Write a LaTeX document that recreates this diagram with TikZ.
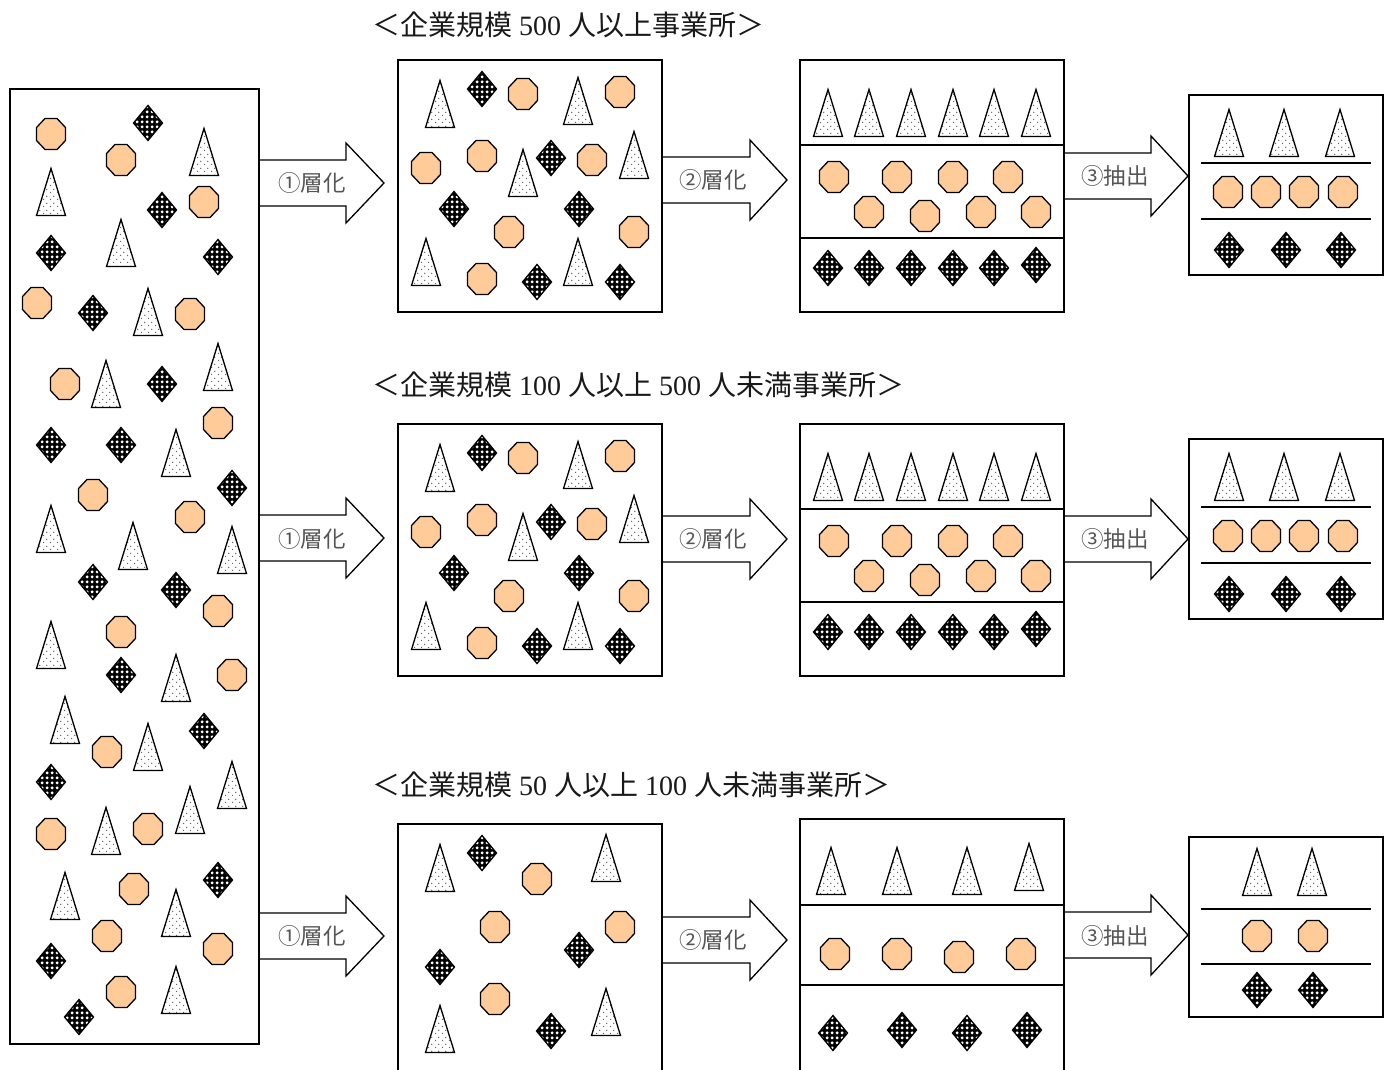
\documentclass[tikz,border=0pt]{standalone}
\usepackage{fontspec}
\newfontfamily\jp{Noto Sans CJK JP}
\newfontfamily\digits{Liberation Serif}
\usetikzlibrary{patterns.meta}
\definecolor{peach}{RGB}{255,204,153}
\definecolor{lbl}{RGB}{85,85,85}
\tikzdeclarepattern{name=tdots, type=uncolored, bottom left={(0pt,0pt)}, top right={(7pt,7pt)}, tile size={(7pt,7pt)},
  code={\fill (1.75pt,1.75pt) circle (0.8pt); \fill (5.25pt,5.25pt) circle (0.8pt);}}
\tikzdeclarepattern{name=ddots, type=uncolored, bottom left={(0pt,0pt)}, top right={(5pt,5pt)}, tile size={(5pt,5pt)},
  code={\fill (2.5pt,2.5pt) circle (1.85pt);}}
\tikzset{
  tristyle/.style={preaction={fill=white}, pattern=tdots, pattern color=black!60, draw=black, line width=1.3pt, line join=miter},
  diastyle/.style={preaction={fill=black}, pattern=ddots, pattern color=white, draw=black, line width=1.3pt, line join=miter},
  octstyle/.style={fill=peach, draw=black, line width=1.3pt},
  tri/.pic={\path[tristyle] (0,-23.5) -- (14.5,23.5) -- (-14.5,23.5) -- cycle;},
  dia/.pic={\path[diastyle] (0,-17.5) -- (14.5,0) -- (0,17.5) -- (-14.5,0) -- cycle;},
  oct/.pic={\path[octstyle] (-6,-15.5) -- (6,-15.5) -- (14.5,-6.5) -- (14.5,6.5) -- (6,15.5) -- (-6,15.5) -- (-14.5,6.5) -- (-14.5,-6.5) -- cycle;},
  boxline/.style={draw=black, line width=1.6pt},
  divline/.style={draw=black, line width=1.3pt},
  arrowstyle/.style={draw=black, fill=white, line width=1.3pt, line join=miter},
  arrlabel/.style={font=\jp\fontsize{22.5}{26}\selectfont, text=lbl, inner sep=0pt},
  title/.style={font=\digits\fontsize{28}{32}\selectfont, text=black!90, anchor=west, inner sep=0pt},
}
% block arrow: start x, head x, tip x, centre y
\newcommand\blockarrow[4]{%
  \path[arrowstyle] (#1,#4-23) -- (#2,#4-23) -- (#2,#4-40) -- (#3,#4) -- (#2,#4+40) -- (#2,#4+23) -- (#1,#4+23) -- cycle;}
\begin{document}
\begin{tikzpicture}[x=1pt,y=-1pt]
\useasboundingbox (0,0) rectangle (1392,1069);

% titles
\node[title] (t1) at (372,25) {{\jp ＜企業規模} 500 {\jp 人以上事業所＞}};
\node[title] (t2) at (372,385) {{\jp ＜企業規模} 100 {\jp 人以上} 500 {\jp 人未満事業所＞}};
\node[title] (t3) at (372,785) {{\jp ＜企業規模} 50 {\jp 人以上} 100 {\jp 人未満事業所＞}};

% block arrows
\blockarrow{259}{346}{384}{183}
\blockarrow{259}{346}{384}{538}
\blockarrow{259}{346}{384}{936}
\blockarrow{662}{750}{787}{180}
\blockarrow{662}{750}{787}{539}
\blockarrow{662}{750}{787}{940}
\blockarrow{1064}{1151}{1188}{176}
\blockarrow{1064}{1151}{1188}{539}
\blockarrow{1064}{1151}{1188}{935}
\node[arrlabel] (l11) at (312,183) {①層化};
\node[arrlabel] (l12) at (312,539) {①層化};
\node[arrlabel] (l13) at (312,936) {①層化};
\node[arrlabel] (l21) at (713,180) {②層化};
\node[arrlabel] (l22) at (713,539) {②層化};
\node[arrlabel] (l23) at (713,940) {②層化};
\node[arrlabel] (l31) at (1115,176) {③抽出};
\node[arrlabel] (l32) at (1115,539) {③抽出};
\node[arrlabel] (l33) at (1115,936) {③抽出};

% boxes
\draw[boxline] (10,89) rectangle (259,1044);
\draw[boxline] (398,60) rectangle (662,312);
\draw[boxline] (398,424) rectangle (662,676);
\draw[boxline] (398,1080) -- (398,824) -- (662,824) -- (662,1080);
\draw[boxline] (800,60) rectangle (1064,312);
\draw[divline] (800,145) -- (1064,145) (800,238) -- (1064,238);
\draw[boxline] (800,424) rectangle (1064,676);
\draw[divline] (800,509) -- (1064,509) (800,602) -- (1064,602);
\draw[boxline] (800,1080) -- (800,819) -- (1064,819) -- (1064,1080);
\draw[divline] (800,905) -- (1064,905) (800,985) -- (1064,985);
\draw[boxline] (1189,95) rectangle (1383,275);
\draw[divline] (1201,163) -- (1371,163) (1201,219) -- (1371,219);
\draw[boxline] (1189,439) rectangle (1383,619);
\draw[divline] (1201,507) -- (1371,507) (1201,563) -- (1371,563);
\draw[boxline] (1189,837) rectangle (1383,1017);
\draw[divline] (1201,909) -- (1371,909) (1201,964) -- (1371,964);

% left population
\foreach \x/\y in {51/134,121/160,204/202,37/303,190/314,65/384,218/423,93/495,190/517,218/611,121/632,232/675,107/752,51/834,148/829,134/889,107/936,218/949,121/992}
  \pic at (\x,\y) {oct};
\foreach \x/\y in {148/123,162/210,51/253,218/257,93/313,162/384,51/445,121/445,232/488,93/582,176/590,121/675,204/731,51/782,218/880,51/961,79/1017}
  \pic at (\x,\y) {dia};
\foreach \x/\y in {204/152,51/192,121/243,148/312,106/384,218/367,176/453,51/529,133/546,232/550,51/645,176/678,65/720,148/747,232/785,106/831,190/810,65/896,176/913,176/990}
  \pic at (\x,\y) {tri};

% stratified population, rows 1 and 2
\foreach \dy in {0,364} {
  \foreach \x/\y in {440/104,578/101,523/173,634/155,426/262,578/262}
    \pic at (\x,{\y+\dy}) {tri};
  \foreach \x/\y in {523/94,620/92,426/168,482/156,592/160,509/232,634/232,482/279}
    \pic at (\x,{\y+\dy}) {oct};
  \foreach \x/\y in {482/89,551/158,454/209,579/209,537/282,620/282}
    \pic at (\x,{\y+\dy}) {dia};
  \foreach \x in {828,869,911,953,994,1036}
    \pic at (\x,{113+\dy}) {tri};
  \foreach \x/\y in {834/177,897/177,953/177,1008/177,869/212,925/216,981/212,1036/212}
    \pic at (\x,{\y+\dy}) {oct};
  \foreach \x/\y in {828/268,869/268,911/268,953/268,994/268,1036/265}
    \pic at (\x,{\y+\dy}) {dia};
}
\foreach \dy in {0,344} {
  \foreach \x in {1229,1284,1340}
    \pic at (\x,{133+\dy}) {tri};
  \foreach \x in {1228,1266,1304,1343}
    \pic at (\x,{192+\dy}) {oct};
  \foreach \x in {1229,1286,1341}
    \pic at (\x,{250+\dy}) {dia};
}

% row 3
\foreach \x/\y in {440/868,606/858,440/1029,606/1012}
  \pic at (\x,\y) {tri};
\foreach \x/\y in {537/879,495/927,620/927,495/999}
  \pic at (\x,\y) {oct};
\foreach \x/\y in {482/853,579/950,440/967,551/1031}
  \pic at (\x,\y) {dia};
\foreach \x/\y in {831/871,897/871,967/871,1029/867}
  \pic at (\x,\y) {tri};
\foreach \x/\y in {835/954,897/954,959/957,1021/954}
  \pic at (\x,\y) {oct};
\foreach \x/\y in {833/1033,902/1030,967/1033,1027/1030}
  \pic at (\x,\y) {dia};
\foreach \x in {1257,1312}
  \pic at (\x,872) {tri};
\foreach \x in {1257,1313}
  \pic at (\x,936) {oct};
\foreach \x in {1257,1313}
  \pic at (\x,990) {dia};
\end{tikzpicture}
\end{document}
